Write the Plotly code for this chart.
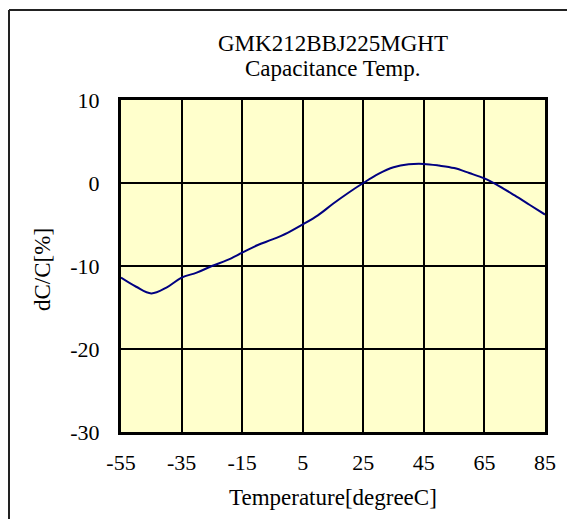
import plotly.graph_objects as go

temps = [-55, -50, -45, -40, -35, -30, -25, -20, -15, -10, -5, 0, 5, 10, 15,
         20, 25, 30, 35, 40, 45, 50, 55, 60, 65, 70, 75, 80, 85]
dcc = [-11.4, -12.5, -13.3, -12.6, -11.4, -10.8, -10.0, -9.3, -8.4, -7.5, -6.8,
       -6.0, -5.0, -3.9, -2.5, -1.2, 0.0, 1.1, 1.9, 2.25, 2.3, 2.1, 1.8, 1.2,
       0.55, -0.4, -1.5, -2.65, -3.8]
x_ticks = [-55, -35, -15, 5, 25, 45, 65, 85]
x_tick_labels = ["-55", "-35", "-15", "5", "25", "45", "65", "85"]
y_ticks = [-30, -20, -10, 0, 10]
y_tick_labels = ["-30", "-20", "-10", "0", "10"]
title_lines = ["GMK212BBJ225MGHT", "Capacitance Temp."]
x_title = "Temperature[degreeC]"
y_title = "dC/C[%]"

OFF = 8  # page body margin
W, H = 567, 511
L, R, T, B = 113, 30, 92, 87
pw, ph = W - L - R, H - T - B

def px(xp):  # page x -> paper
    return (xp - OFF - L) / pw

def py(yp):  # page y -> paper
    return (H - B - (yp - OFF)) / ph

FONT = "Liberation Serif"

fig = go.Figure()
fig.add_trace(go.Scatter(
    x=temps, y=dcc, mode="lines",
    line=dict(color="#000080", width=2, shape="spline", smoothing=1.0),
    hoverinfo="skip", showlegend=False,
))

axis_common = dict(
    showgrid=True, gridcolor="black", gridwidth=2,
    showline=True, linecolor="black", linewidth=3, mirror=True,
    zeroline=False, ticks="", tickfont=dict(family=FONT, size=22, color="black"),
)
fig.update_xaxes(range=[-55, 85], tickvals=x_ticks, ticktext=x_tick_labels,
                 ticklabelstandoff=9, **axis_common)
fig.update_yaxes(range=[-30, 10], tickvals=y_ticks, ticktext=y_tick_labels,
                 ticklabelstandoff=14, **axis_common)

def ann(text, x, y, size, angle=0):
    return dict(text=text, x=x, y=y, xref="paper", yref="paper", showarrow=False,
                textangle=angle, font=dict(family=FONT, size=size, color="black"),
                xanchor="center", yanchor="middle")

annotations = [
    ann(title_lines[0], 0.5, py(44), 23),
    ann(title_lines[1], 0.5, py(69), 23),
    ann(x_title, 0.5, py(497), 23),
    ann(y_title, px(42), py(270), 23, -90),
]

shapes = [
    dict(type="line", xref="paper", yref="paper", x0=px(9), x1=px(9), y0=py(10), y1=py(540),
         line=dict(color="#222222", width=2)),
    dict(type="line", xref="paper", yref="paper", x0=px(9), x1=px(600), y0=py(10), y1=py(10),
         line=dict(color="#222222", width=2)),
]

fig.update_layout(
    width=W, height=H,
    margin=dict(l=L, r=R, t=T, b=B, autoexpand=False),
    paper_bgcolor="white", plot_bgcolor="#FFFFCC",
    annotations=annotations, shapes=shapes,
    font=dict(family=FONT, color="black"),
)

fig.write_html("out.html")
